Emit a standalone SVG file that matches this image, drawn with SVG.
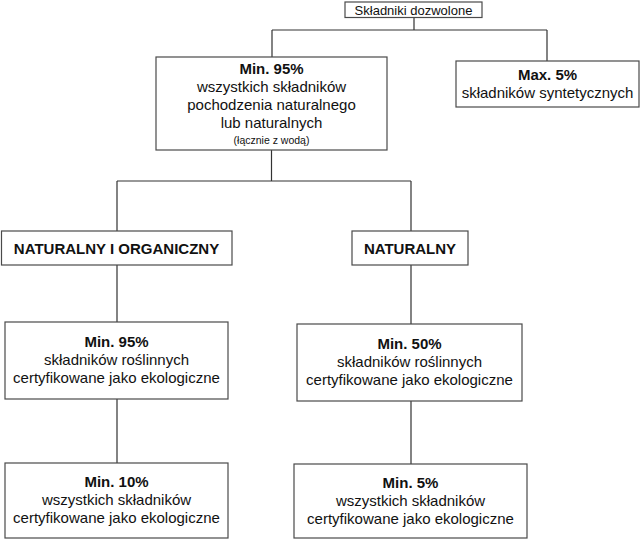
<svg xmlns="http://www.w3.org/2000/svg" width="640" height="541" viewBox="0 0 640 541">
<style>
  .box { fill: #ffffff; stroke: #4a4a4a; stroke-width: 1.2; }
  .conn { fill: none; stroke: #333333; stroke-width: 1.2; }
  text { font-family: "Liberation Sans", Arial, sans-serif; fill: #111111; text-anchor: middle; font-variant-ligatures: none; }
  .t { font-size: 15px; }
  .b { font-size: 15px; font-weight: bold; }
  .s { font-size: 13px; }
  .xs { font-size: 10.5px; }
</style>
<rect width="640" height="541" fill="#ffffff"/>
<g id="connectors">
  <path class="conn" d="M414,17 V30 M272,30 H547 M272,30 V57 M547,30 V61"/>
  <path class="conn" d="M271.5,150 V181 M117,181 H411 M117,181 V231 M411,181 V231"/>
  <path class="conn" d="M117,265 V322 M411,265 V324"/>
  <path class="conn" d="M117,399 V463 M411,401 V464"/>
</g>
<g id="root">
  <rect class="box" x="345" y="2" width="137" height="15.5"/>
  <text class="s" x="413.5" y="14.5">Składniki dozwolone</text>
</g>
<g id="natural95">
  <rect class="box" x="156" y="57" width="231" height="93"/>
  <text class="b" x="271.5" y="74">Min. 95%</text>
  <text class="t" x="271.5" y="92">wszystkich składników</text>
  <text class="t" x="271.5" y="110">pochodzenia naturalnego</text>
  <text class="t" x="271.5" y="128">lub naturalnych</text>
  <text class="xs" x="271.5" y="144">(łącznie z wodą)</text>
</g>
<g id="synthetic5">
  <rect class="box" x="456" y="61" width="183" height="46"/>
  <text class="b" x="547.5" y="80">Max. 5%</text>
  <text class="t" x="547.5" y="98">składników syntetycznych</text>
</g>
<g id="nat-org">
  <rect class="box" x="1.5" y="231" width="230.5" height="34"/>
  <text class="b" x="116.5" y="253.5">NATURALNY I ORGANICZNY</text>
</g>
<g id="nat">
  <rect class="box" x="352" y="231" width="116" height="34"/>
  <text class="b" x="410" y="253.5">NATURALNY</text>
</g>
<g id="nat-org-95">
  <rect class="box" x="5" y="322" width="223" height="77"/>
  <text class="b" x="116.5" y="347">Min. 95%</text>
  <text class="t" x="116.5" y="365">składników roślinnych</text>
  <text class="t" x="116.5" y="383">certyfikowane jako ekologiczne</text>
</g>
<g id="nat-50">
  <rect class="box" x="297" y="324" width="225" height="77"/>
  <text class="b" x="409.5" y="349">Min. 50%</text>
  <text class="t" x="409.5" y="367">składników roślinnych</text>
  <text class="t" x="409.5" y="385">certyfikowane jako ekologiczne</text>
</g>
<g id="nat-org-10">
  <rect class="box" x="5" y="463" width="223" height="75"/>
  <text class="b" x="116.5" y="487">Min. 10%</text>
  <text class="t" x="116.5" y="505">wszystkich składników</text>
  <text class="t" x="116.5" y="523">certyfikowane jako ekologiczne</text>
</g>
<g id="nat-5">
  <rect class="box" x="294" y="464" width="233" height="74"/>
  <text class="b" x="410.5" y="488">Min. 5%</text>
  <text class="t" x="410.5" y="506">wszystkich składników</text>
  <text class="t" x="410.5" y="524">certyfikowane jako ekologiczne</text>
</g>
</svg>
